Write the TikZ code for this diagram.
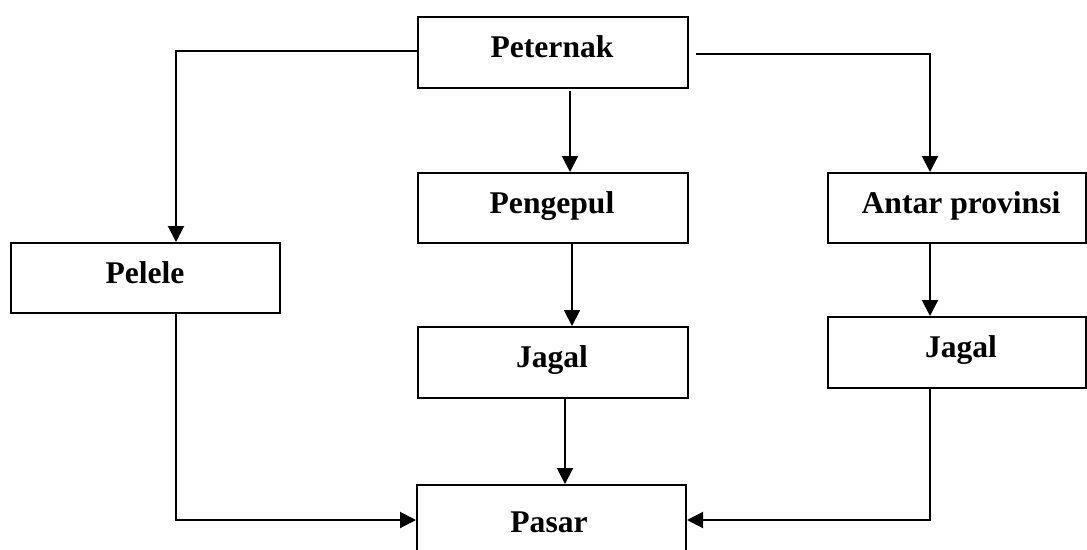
\documentclass[tikz,border=0pt]{standalone}
\usepackage{fontspec}
\setmainfont{Liberation Serif}
\usetikzlibrary{arrows.meta}
\begin{document}
\begin{tikzpicture}[x=1pt,y=-1pt,
  box/.style={draw=black,line width=2pt,rectangle,anchor=north west,inner sep=0pt},
  lbl/.style={anchor=base,inner sep=0pt,font=\bfseries\fontsize{31.6}{36}\selectfont},
  arr/.style={line width=2pt,-{Triangle[width=16pt,length=16pt]}}]
\useasboundingbox (0,0) rectangle (1087,549);
\clip (0,0) rectangle (1087,549);
\fill[white] (0,0) rectangle (1087,549);
% boxes
\node[box,minimum width=270pt,minimum height=71pt] (p)  at (417,16) {};
\node[box,minimum width=270pt,minimum height=70pt] (pg) at (417,172) {};
\node[box,minimum width=258pt,minimum height=70pt] (ap) at (827,172) {};
\node[box,minimum width=269pt,minimum height=70pt] (pl) at (10,242) {};
\node[box,minimum width=270pt,minimum height=71pt] (jm) at (417,326) {};
\node[box,minimum width=258pt,minimum height=71pt] (jr) at (827,316) {};
\node[box,minimum width=269pt,minimum height=76pt] (ps) at (416,484) {};
% labels
\node[lbl] (tp)  at (552,57)  {Peternak};
\node[lbl] (tpg) at (552,213) {Pengepul};
\node[lbl] (tap) at (961,213) {Antar provinsi};
\node[lbl] (tpl) at (145,283) {Pelele};
\node[lbl] (tjm) at (552,367) {Jagal};
\node[lbl] (tjr) at (961,357) {Jagal};
\node[lbl] (tps) at (549,532) {Pasar};
% connectors
\draw[arr] ([yshift=1.5pt]p.west) -| ([xshift=30.5pt]pl.north);
\draw[arr] ([xshift=7pt,yshift=-1.5pt]p.east) -| ([xshift=-27pt]ap.north);
\draw[arr] ([xshift=17pt,yshift=-2pt]p.south) -- ([xshift=17pt]pg.north);
\draw[arr] ([xshift=19pt]pg.south) -- ([xshift=19pt]jm.north);
\draw[arr] ([xshift=-27pt]ap.south) -- ([xshift=-27pt]jr.north);
\draw[arr] ([xshift=12pt]jm.south) -- ([xshift=13.5pt]ps.north);
\draw[arr] ([xshift=30.5pt]pl.south) |- ([yshift=3pt]ps.west);
\draw[arr] ([xshift=-27pt]jr.south) |- ([yshift=3pt]ps.east);
\end{tikzpicture}
\end{document}
